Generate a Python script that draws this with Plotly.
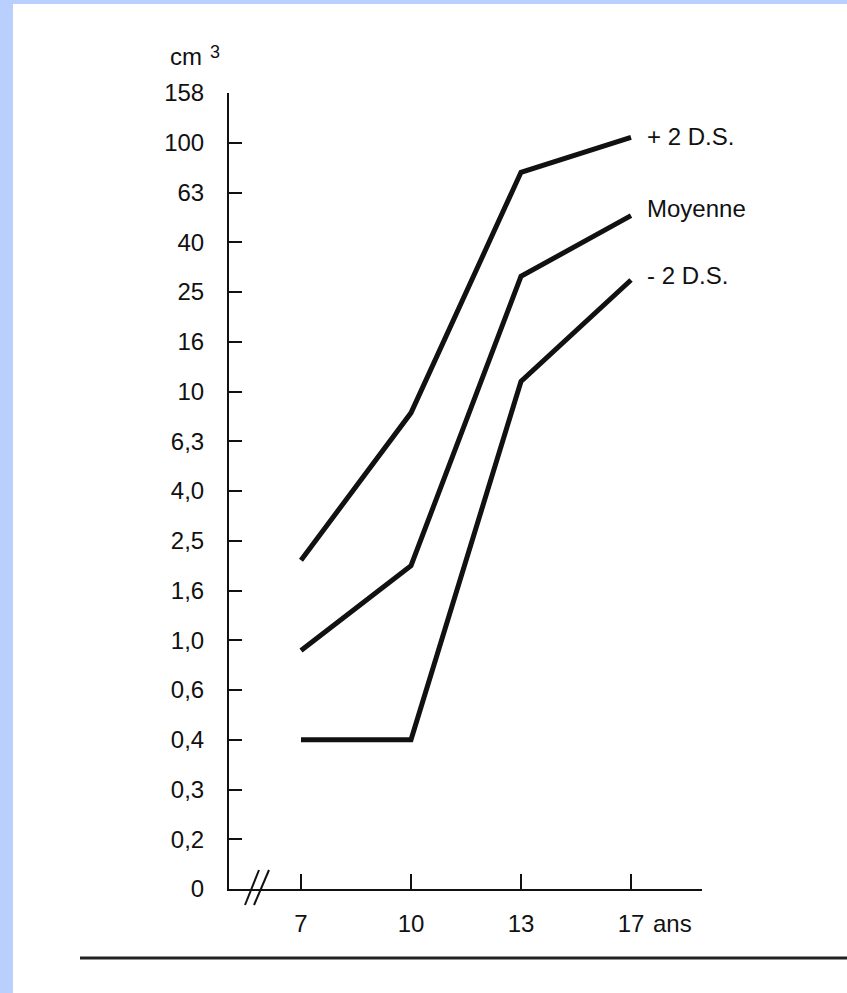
import math
import plotly.graph_objects as go

# Age groups (years) and the printed volume scale (cm3)
ages = ["7", "10", "13", "17"]
scale_labels = ["0", "0,2", "0,3", "0,4", "0,6", "1,0", "1,6", "2,5", "4,0",
                "6,3", "10", "16", "25", "40", "63", "100", "158"]
scale_values = [0, 0.2, 0.3, 0.4, 0.6, 1.0, 1.6, 2.5, 4.0,
                6.3, 10, 16, 25, 40, 63, 100, 158]

# Volume curves (cm3)
plus_2ds = [2.1, 8.2, 76, 105]
moyenne = [0.9, 2.0, 29, 51]
minus_2ds = [0.4, 0.4, 11, 28]

series = [("+ 2 D.S.", plus_2ds, 1), ("Moyenne", moyenne, 7), ("- 2 D.S.", minus_2ds, 5)]


def scale_pos(v):
    """Position of a volume on the printed scale (log interpolation between marks)."""
    for i in range(1, len(scale_values) - 1):
        lo, hi = scale_values[i], scale_values[i + 1]
        if lo <= v <= hi:
            return i + math.log(v / lo) / math.log(hi / lo)
    return float(len(scale_values) - 1)


W, H = 847, 993
L, R, T, B = 229, 702, 93, 889  # plot area in pixels


def px(x):
    return (x - L) / (R - L)


def py(y):
    return (B - y) / (B - T)


INK = "#111111"
FONT = "Liberation Sans, Arial, sans-serif"
FS = 24

xs = list(range(len(ages)))
fig = go.Figure()
annotations = []
for name, vals, dy in series:
    ys = [scale_pos(v) for v in vals]
    fig.add_trace(go.Scatter(x=xs, y=ys, mode="lines", name=name,
                             line=dict(color=INK, width=5), showlegend=False,
                             hoverinfo="skip"))
    annotations.append(dict(x=xs[-1], y=ys[-1], xref="x", yref="y", text=name,
                            showarrow=False, xanchor="left", yanchor="middle",
                            xshift=14, yshift=dy,
                            font=dict(size=FS, color=INK, family=FONT)))

# unit labels
annotations.append(dict(x=px(168), y=py(57), xref="paper", yref="paper",
                        text="cm", showarrow=False,
                        xanchor="left", yanchor="middle",
                        font=dict(size=FS, color=INK, family=FONT)))
annotations.append(dict(x=px(208), y=py(52), xref="paper", yref="paper",
                        text="3", showarrow=False,
                        xanchor="left", yanchor="middle",
                        font=dict(size=18, color=INK, family=FONT)))
annotations.append(dict(x=xs[-1], y=0, xref="x", yref="y", text="ans",
                        showarrow=False, xanchor="left", yanchor="middle",
                        xshift=20, yshift=-34,
                        font=dict(size=FS, color=INK, family=FONT)))

shapes = [
    # page frame strips
    dict(type="rect", xref="paper", yref="paper", x0=px(0), x1=px(13),
         y0=py(0), y1=py(H), fillcolor="#B9D0FE", line=dict(width=0), layer="below"),
    dict(type="rect", xref="paper", yref="paper", x0=px(0), x1=px(W),
         y0=py(0), y1=py(4), fillcolor="#B9D0FE", line=dict(width=0), layer="below"),
    # rule under the figure
    dict(type="line", xref="paper", yref="paper", x0=px(80), x1=px(W),
         y0=py(958), y1=py(958), line=dict(color="#222222", width=3)),
    # axis break marks
    dict(type="line", xref="paper", yref="paper", x0=px(245), x1=px(259),
         y0=py(905), y1=py(870), line=dict(color=INK, width=2)),
    dict(type="line", xref="paper", yref="paper", x0=px(254), x1=px(269),
         y0=py(905), y1=py(870), line=dict(color=INK, width=2)),
]

fig.update_layout(
    width=W, height=H,
    margin=dict(l=L, r=W - R, t=T, b=H - B, pad=0),
    paper_bgcolor="white", plot_bgcolor="white",
    font=dict(family=FONT, size=FS, color=INK),
    annotations=annotations, shapes=shapes,
    xaxis=dict(range=[(L - 301) / 110, (R - 301) / 110], tickvals=xs,
               ticktext=ages, ticks="inside", ticklen=15, tickwidth=2,
               tickcolor=INK, showline=True, linecolor=INK, linewidth=2,
               showgrid=False, zeroline=False, ticklabelstandoff=12,
               tickfont=dict(size=FS, color=INK, family=FONT), fixedrange=True),
    yaxis=dict(range=[0, len(scale_labels) - 1],
               tickvals=list(range(len(scale_labels))), ticktext=scale_labels,
               ticks="inside", ticklen=13, tickwidth=2, tickcolor=INK,
               showline=True, linecolor=INK, linewidth=2, showgrid=False,
               zeroline=False, ticklabelstandoff=18,
               tickfont=dict(size=FS, color=INK, family=FONT), fixedrange=True),
)

fig.write_html("out.html", config={"displayModeBar": False})
